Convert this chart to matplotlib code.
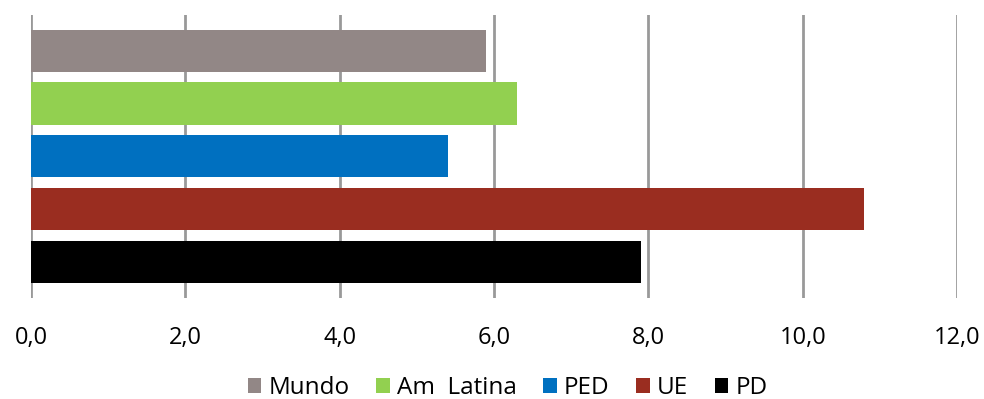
import matplotlib.pyplot as plt
import matplotlib

matplotlib.rcParams['font.family'] = ['Open Sans', 'DejaVu Sans']

categories = ['Mundo', 'Am  Latina', 'PED', 'UE', 'PD']
values = [5.9, 6.3, 5.4, 10.8, 7.9]
colors = ['#928786', '#92d050', '#0070c0', '#9a2d20', '#000000']
xticks = [0, 2, 4, 6, 8, 10, 12]
xlabels = ['0,0', '2,0', '4,0', '6,0', '8,0', '10,0', '12,0']

fig = plt.figure(figsize=(9.84, 3.99), dpi=100)
ax = fig.add_axes([0.0315, 0.2531, 0.9411, 0.7093])

for i in range(len(categories)):
    ax.barh(i, values[i], height=0.8, color=colors[i], label=categories[i], zorder=3)

ax.set_xlim(0, 12)
ax.set_ylim(4.69, -0.68)
ax.set_xticks(xticks)
ax.set_xticklabels(xlabels, fontsize=17)
ax.set_yticks([])
ax.tick_params(axis='x', length=0, pad=20)
ax.grid(axis='x', color='#999999', linewidth=2, zorder=0)
for s in ax.spines.values():
    s.set_visible(False)

fig.legend(loc='center', bbox_to_anchor=(0.516, 0.028), ncol=5, frameon=False,
           fontsize=17.5, handlelength=0.55, handleheight=0.55, handletextpad=0.3,
           columnspacing=1.1)

fig.savefig('out.png', dpi=100)
